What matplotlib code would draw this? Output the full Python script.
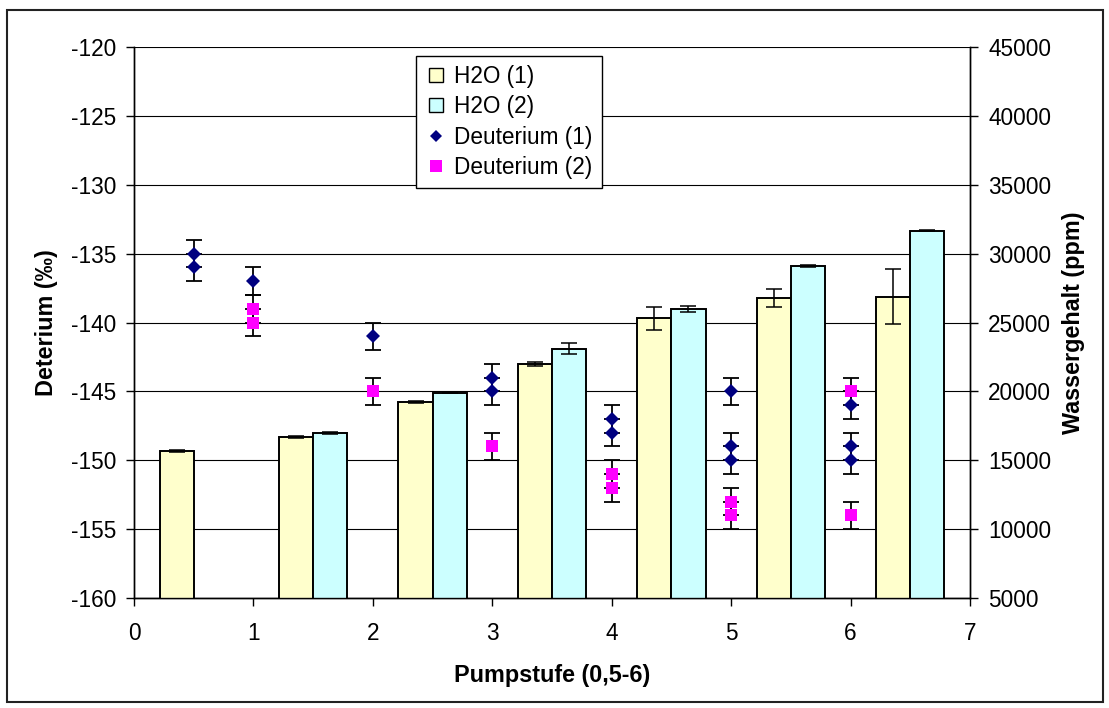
import matplotlib
matplotlib.use("Agg")
import matplotlib.pyplot as plt
import numpy as np
from matplotlib.lines import Line2D
from matplotlib.patches import Rectangle

# Water content per pump step (bars, right axis) and deuterium
# replicate measurements (markers, left axis).
categories = ["0,5", "1", "2", "3", "4", "5", "6"]

h2o_1 = [15670, 16710, 19230, 22010, 25300, 26760, 26870]
h2o_1_err = [50, 80, 40, 150, 850, 660, 1990]
h2o_2 = [np.nan, 17000, 19900, 23080, 25980, 29120, 31660]
h2o_2_err = [np.nan, 80, 20, 400, 200, 60, 50]

deut_1_x = [0.5, 0.5, 1, 2, 3, 3, 4, 4, 5, 5, 5, 6, 6, 6]
deut_1_y = [-135, -136, -137, -141, -144, -145, -147, -148,
            -145, -149, -150, -146, -149, -150]
deut_2_x = [1, 1, 2, 3, 4, 4, 5, 5, 6, 6]
deut_2_y = [-139, -140, -145, -149, -151, -152, -153, -154, -145, -154]
deut_err = 1.0

yellow = "#FFFFCC"
cyan = "#CCFFFF"
navy = "#000080"
magenta = "#FF00FF"

plt.rcParams.update({
    "font.family": ["Liberation Sans", "DejaVu Sans"],
    "font.size": 16.3,
    "axes.unicode_minus": False,
})

fig = plt.figure(figsize=(11.09, 7.08), dpi=100)
ax = fig.add_axes([134 / 1109, 110 / 708, 836 / 1109, 551 / 708])
ax2 = ax.twinx()

# grouped bars: two bars per category, Excel-style 150% gap
pos = np.arange(len(categories)) + 0.5
w = 1 / 3.5
ax2.bar(pos - w / 2, h2o_1, w, color=yellow, edgecolor="black",
        linewidth=1.4, zorder=2)
ax2.bar(pos + w / 2, h2o_2, w, color=cyan, edgecolor="black",
        linewidth=1.4, zorder=2)
ax2.errorbar(pos - w / 2, h2o_1, yerr=h2o_1_err, fmt="none",
             ecolor="black", elinewidth=1.1, capsize=5.5, capthick=1.1,
             zorder=3)
ax2.errorbar(pos + w / 2, h2o_2, yerr=h2o_2_err, fmt="none",
             ecolor="black", elinewidth=1.1, capsize=5.5, capthick=1.1,
             zorder=3)

ax.errorbar(deut_1_x, deut_1_y, yerr=deut_err, fmt="none", ecolor="black",
            elinewidth=1.3, capsize=6, capthick=1.3, zorder=3)
ax.errorbar(deut_2_x, deut_2_y, yerr=deut_err, fmt="none", ecolor="black",
            elinewidth=1.3, capsize=6, capthick=1.3, zorder=3)
ax.plot(deut_1_x, deut_1_y, "D", color=navy, markersize=7.5,
        markeredgewidth=0, zorder=4)
ax.plot(deut_2_x, deut_2_y, "s", color=magenta, markersize=8,
        markeredgewidth=0, zorder=4)

ax.set_xlim(0, 7)
ax.set_ylim(-160, -120)
ax.set_yticks(np.arange(-160, -119, 5))
ax.set_xticks(np.arange(0, 8, 1))
ax2.set_ylim(5000, 45000)
ax2.set_yticks(np.arange(5000, 45001, 5000))

ax.yaxis.grid(True, color="black", linewidth=0.8)
ax.set_axisbelow(True)
for a in (ax, ax2):
    a.spines["top"].set_visible(False)
    for s in ("left", "right", "bottom"):
        a.spines[s].set_linewidth(1.0)
ax.tick_params(axis="both", direction="out", length=6, width=1.0, pad=7)
ax.tick_params(axis="x", pad=11)
ax2.tick_params(axis="y", direction="out", length=6, width=1.0, pad=7)

ax.set_xlabel("Pumpstufe (0,5-6)", fontweight="bold", fontsize=16.8,
              labelpad=14)
ax.set_ylabel("Deterium (‰)", fontweight="bold", fontsize=16.8, labelpad=9)
ax2.set_ylabel("Wassergehalt (ppm)", fontweight="bold", fontsize=16.8,
               labelpad=8)

handles = [
    Line2D([], [], ls="none", marker="s", markersize=10,
           markerfacecolor=yellow, markeredgecolor="black", markeredgewidth=1),
    Line2D([], [], ls="none", marker="s", markersize=10,
           markerfacecolor=cyan, markeredgecolor="black", markeredgewidth=1),
    Line2D([], [], ls="none", marker="D", markersize=6.5, color=navy,
           markeredgewidth=0),
    Line2D([], [], ls="none", marker="s", markersize=8, color=magenta,
           markeredgewidth=0),
]
leg = ax2.legend(handles, ["H2O (1)", "H2O (2)", "Deuterium (1)",
                           "Deuterium (2)"],
                 loc="upper left", bbox_to_anchor=(0.337, 0.984),
                 borderaxespad=0, frameon=True, fancybox=False,
                 edgecolor="black", framealpha=1, handlelength=1.0,
                 handletextpad=0.3, labelspacing=0.33, borderpad=0.4)
leg.get_frame().set_linewidth(1.0)

fig.patches.append(Rectangle((7 / 1109, 6 / 708), 1096 / 1109, 692 / 708,
                             transform=fig.transFigure, fill=False,
                             edgecolor="#222222", linewidth=1.5))

fig.savefig("out.png", dpi=100)
